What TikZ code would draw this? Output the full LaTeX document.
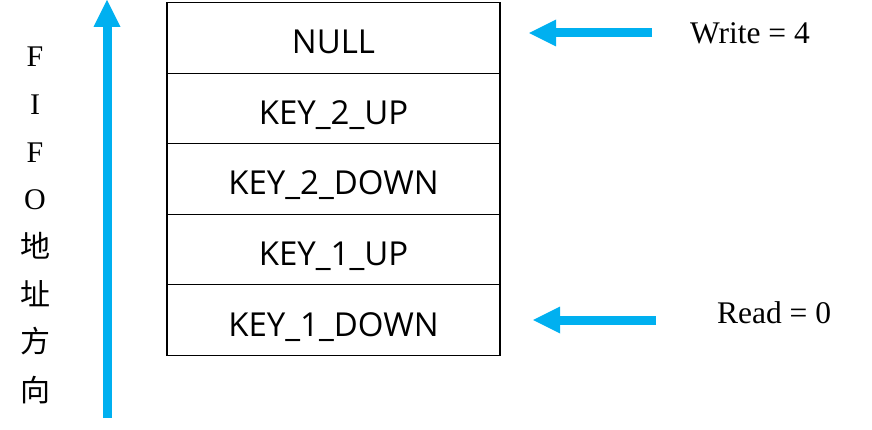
\documentclass[tikz,border=0pt]{standalone}
\usepackage{fontspec}
\setmainfont{Liberation Serif}
\newfontfamily\cellfont{Open Sans}
\newfontfamily\cjkfont{Noto Sans CJK SC}
\usetikzlibrary{arrows.meta}
\definecolor{skyblue}{HTML}{00B0F0}
\tikzset{
  cell/.style={draw=black, line width=1.3pt, minimum width=333pt, minimum height=70.5pt,
    inner sep=0pt, font=\cellfont\fontsize{33}{33}\selectfont, text height=32pt, text depth=0pt},
  ptr/.style={draw=skyblue, line width=9pt,
    -{Triangle[length=27pt,width=27pt,line width=0pt]}},
  lbl/.style={font=\fontsize{31.5}{31.5}\selectfont, inner sep=0pt},
  vch/.style={font=\fontsize{30}{30}\selectfont, inner sep=0pt, anchor=center},
}
\begin{document}
\begin{tikzpicture}[x=1pt,y=-1pt]
\useasboundingbox (0,0) rectangle (872,430);
% table
\node[cell] (c4) at (333.5,38)   {NULL};
\node[cell] (c3) at (333.5,108.5)  {KEY\_2\_UP};
\node[cell] (c2) at (333.5,179)  {KEY\_2\_DOWN};
\node[cell] (c1) at (333.5,249.5)  {KEY\_1\_UP};
\node[cell] (c0) at (333.5,320)  {KEY\_1\_DOWN};
% vertical direction arrow
\coordinate (vS) at (107,418);
\coordinate (vE) at (107,0);
\draw[ptr] (vS) -- (vE);
% vertical text
\node[vch] (t1) at (35,57)  {F};
\node[vch] (t2) at (35,105) {I};
\node[vch] (t3) at (35,153) {F};
\node[vch] (t4) at (35,200) {O};
\node[vch] (t5) at (35,246) {\cjkfont 地};
\node[vch] (t6) at (35,294) {\cjkfont 址};
\node[vch] (t7) at (35,341) {\cjkfont 方};
\node[vch] (t8) at (35,390) {\cjkfont 向};
% write pointer
\node[lbl] (wl) at (750,33) {Write = 4};
\coordinate (wS) at (652,33);
\coordinate (wE) at (529,33);
\draw[ptr] (wS) -- (wE);
% read pointer
\node[lbl] (rl) at (774,313) {Read = 0};
\coordinate (rS) at (656,320);
\coordinate (rE) at (533,320);
\draw[ptr] (rS) -- (rE);
\end{tikzpicture}
\end{document}
